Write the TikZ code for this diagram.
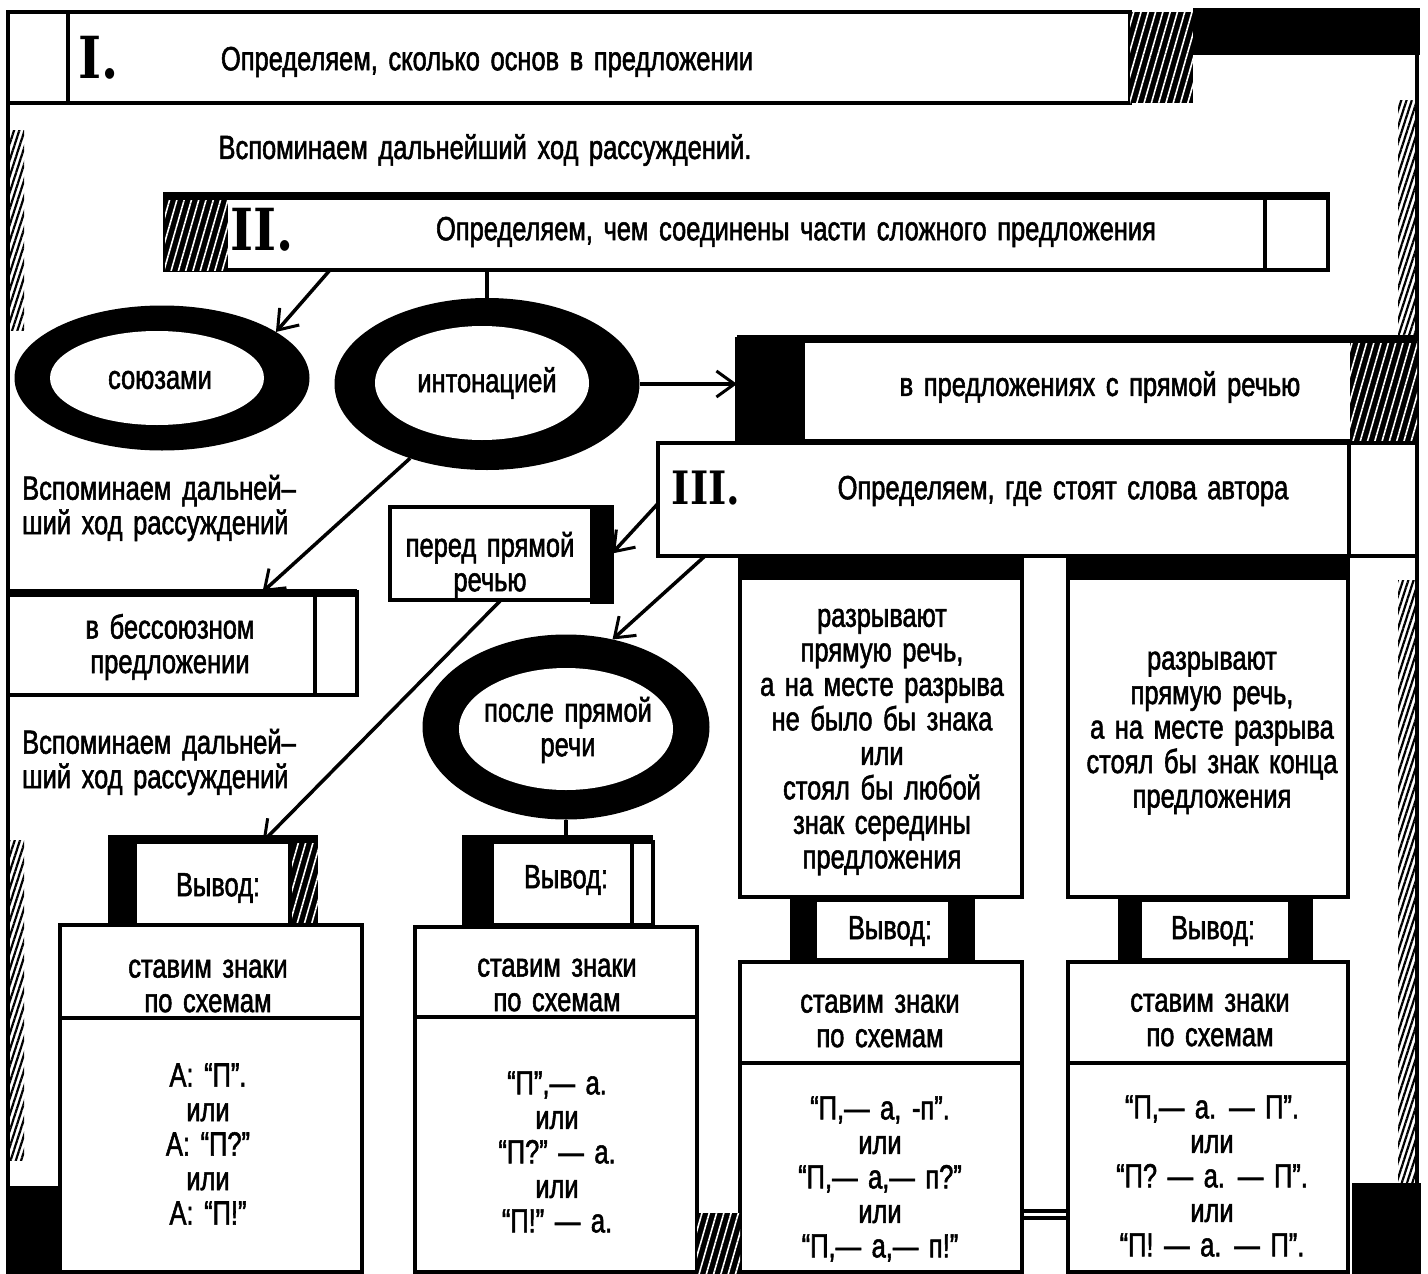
\documentclass[tikz,border=0pt]{standalone}
\usepackage{fontspec}
\setmainfont{Liberation Sans}[FakeStretch=0.76, FakeBold=1.6, WordSpace=1.5]
\newfontfamily\numfont{DejaVu Serif}[FakeStretch=0.85]
\usetikzlibrary{shapes.geometric,arrows.meta,patterns.meta,fit}
\begin{document}
\begin{tikzpicture}[x=1pt,y=-1pt,
  every node/.style={font=\fontsize{33.5}{34.5}\selectfont, align=center, inner sep=0pt},
  bx/.style={draw, line width=3.5pt, fill=white, inner sep=0pt, outer sep=0pt},
  thk/.style={line width=3.5pt},
  topbar/.style={line width=8pt},
  ring/.style={ellipse, fill=black, inner sep=0pt, outer sep=0pt},
  numf/.style={font=\numfont\bfseries\fontsize{58}{60}\selectfont},
  darkhatch/.style={fill=black, postaction={pattern={Lines[angle=74,distance=7pt,line width=1.6pt]}, pattern color=white}},
  edgehatch/.style={pattern={Lines[angle=72,distance=5pt,line width=2.2pt]}, pattern color=black},
  arr/.style={line width=3.5pt, -{Straight Barb[length=18pt,width=26pt,line width=3pt]}}
]
\useasboundingbox (0,0) rectangle (1428,1274);

% ---- frame ----
\fill[edgehatch] (6,130) rectangle (24,330);
\fill[edgehatch] (6,840) rectangle (24,1160);
\fill[edgehatch] (1398,100) rectangle (1416,336);
\fill[edgehatch] (1398,580) rectangle (1416,1183);
\draw[thk] (8,1274) -- (8,12);
\draw[thk] (1417,8) -- (1417,1274);
\fill (8,1186) rectangle (63,1274);
\fill (1352,1183) rectangle (1421,1274);

% ---- I ----
\node[bx, fit={(8,12) (1130,103)}] (boxI) {};
\fill[darkhatch] (1130,12) rectangle (1193,103);
\fill (1193,8) rectangle (1420,55);
\draw[thk] (68,12) -- (68,103);
\node[numf] (numI) at (99,58) {I.};
\node (tI) at (487,62) {Определяем, сколько основ в предложении};
\node (t0) at (485,150) {Вспоминаем дальнейший ход рассуждений.};

% ---- II ----
\node[bx, fit={(165,194) (1328,270)}] (boxII) {};
\fill[darkhatch] (165,194) rectangle (228,270);
\draw[topbar] (165,196) -- (1328,196);
\draw[thk] (1265,194) -- (1265,270);
\node[numf] (numII) at (262,230) {II.};
\node (tII) at (796,232) {Определяем, чем соединены части сложного предложения};

% ---- ellipses ----
\node[ring, minimum width=295pt, minimum height=145pt] (soyuz) at (162,378) {};
\fill[white] (157,378) ellipse [x radius=107, y radius=47];
\node (tsoyuz) at (160,380) {союзами};
\node[ring, minimum width=305pt, minimum height=172pt] (inton) at (487,384) {};
\fill[white] (482,383) ellipse [x radius=107, y radius=57];
\node (tinton) at (487,383) {интонацией};
\node[ring, minimum width=287pt, minimum height=185pt] (posle) at (566,727) {};
\fill[white] (566,729) ellipse [x radius=107, y radius=61];
\node (tposle) at (568,730) {после прямой\\речи};

% ---- direct speech box ----
\node[bx, fit={(737,339) (1417,441)}] (direct) {};
\fill (737,335) rectangle (805,441);
\fill[darkhatch] (1350,341) rectangle (1417,441);
\draw[topbar] (737,339) -- (1417,339);
\node (tdirect) at (1100,387) {в предложениях с прямой речью};

% ---- III ----
\node[bx, fit={(658,443) (1349,556)}] (boxIII) {};
\draw[thk] (1349,443) rectangle (1417,556);
\node[numf, font=\numfont\bfseries\fontsize{46}{48}\selectfont] (numIII) at (706,488) {III.};
\node (tIII) at (1063,491) {Определяем, где стоят слова автора};

% ---- бессоюзное ----
\node[bx, fit={(8,592) (357,695)}] (bes) {};
\draw[topbar] (8,593) -- (357,593);
\draw[thk] (315,592) -- (315,695);
\node (tbes) at (170,647) {в бессоюзном\\предложении};

\node[anchor=west, align=left] (rem1) at (22,508) {Вспоминаем дальней–\\ший ход рассуждений};
\node[anchor=west, align=left] (rem2) at (22,762) {Вспоминаем дальней–\\ший ход рассуждений};

% ---- перед прямой речью ----
\node[bx, fit={(390,507) (612,600)}] (pered) {};
\fill (590,505) rectangle (614,604);
\node (tpered) at (490,565) {перед прямой\\речью};

% ---- columns 3 & 4 ----
\node[bx, fit={(740,557) (1022,897)}] (c3) {};
\fill (740,555) rectangle (1022,580);
\node (tc3) at (882,742) {разрывают\\прямую речь,\\а на месте разрыва\\не было бы знака\\или\\стоял бы любой\\знак середины\\предложения};
\node[bx, fit={(1068,557) (1348,897)}] (c4) {};
\fill (1068,555) rectangle (1348,580);
\node (tc4) at (1212,733) {разрывают\\прямую речь,\\а на месте разрыва\\стоял бы знак конца\\предложения};

\fill (790,895) rectangle (815,962);
\fill (950,895) rectangle (975,962);
\node[bx, fit={(815,900) (950,960)}] (v3) {};
\node (tv3) at (890,931) {Вывод:};
\fill (1118,895) rectangle (1140,962);
\fill (1290,895) rectangle (1313,962);
\node[bx, fit={(1140,900) (1290,960)}] (v4) {};
\node (tv4) at (1213,931) {Вывод:};

\node[bx, fit={(740,962) (1022,1063)}] (s3) {};
\node (ts3) at (880,1021) {ставим знаки\\по схемам};
\node[bx, fit={(740,1063) (1022,1272)}] (l3) {};
\node (tl3) at (880,1179) {“П,— а, -п”.\\или\\“П,— а,— п?”\\или\\“П,— а,— п!”};
\node[bx, fit={(1068,962) (1348,1063)}] (s4) {};
\node (ts4) at (1210,1020) {ставим знаки\\по схемам};
\node[bx, fit={(1068,1063) (1348,1272)}] (l4) {};
\node (tl4) at (1212,1176) {“П,— а. — П”.\\или\\“П? — а. — П”.\\или\\“П! — а. — П”.};
\draw[thk] (1022,1211) rectangle (1068,1218);

% ---- column 1 ----
\fill (108,835) rectangle (135,925);
\fill[darkhatch] (290,835) rectangle (318,925);
\node[bx, fit={(135,842) (290,925)}] (v1) {};
\draw[topbar] (108,839) -- (318,839);
\node (tv1) at (218,888) {Вывод:};
\node[bx, fit={(60,925) (362,1018)}] (s1) {};
\node (ts1) at (208,986) {ставим знаки\\по схемам};
\node[bx, fit={(60,1018) (362,1272)}] (l1) {};
\node (tl1) at (208,1144) {А: “П”.\\или\\А: “П?”\\или\\А: “П!”};

% ---- column 2 ----
\fill (462,835) rectangle (492,925);
\node[bx, fit={(492,842) (632,925)}] (v2) {};
\draw[thk] (632,842) rectangle (653,925);
\draw[topbar] (462,839) -- (653,839);
\node (tv2) at (566,880) {Вывод:};
\node[bx, fit={(415,927) (697,1017)}] (s2) {};
\node (ts2) at (557,985) {ставим знаки\\по схемам};
\node[bx, fit={(415,1017) (697,1272)}] (l2) {};
\node (tl2) at (557,1152) {“П”,— а.\\или\\“П?” — а.\\или\\“П!” — а.};
\fill[darkhatch] (697,1213) rectangle (740,1274);

% ---- connectors ----
\draw[arr] ([xshift=165pt]boxII.south west) -- (soyuz.22);
\draw[line width=3.5pt] (inton.north |- boxII.south) -- (inton.north);
\draw[arr] (inton.east) -- (inton.east -| direct.west);
\draw[arr] (inton.-136) -- ([xshift=80pt]bes.north);
\draw[arr] ([yshift=-4pt]boxIII.west) -- (pered.east);
\draw[arr] ([xshift=47pt]boxIII.south west) -- (posle.62);
\draw[arr] (pered.south) -- ([xshift=50pt]v1.north);
\draw[line width=3.5pt] (posle.south) -- (posle.south |- v2.north);
\end{tikzpicture}
\end{document}
